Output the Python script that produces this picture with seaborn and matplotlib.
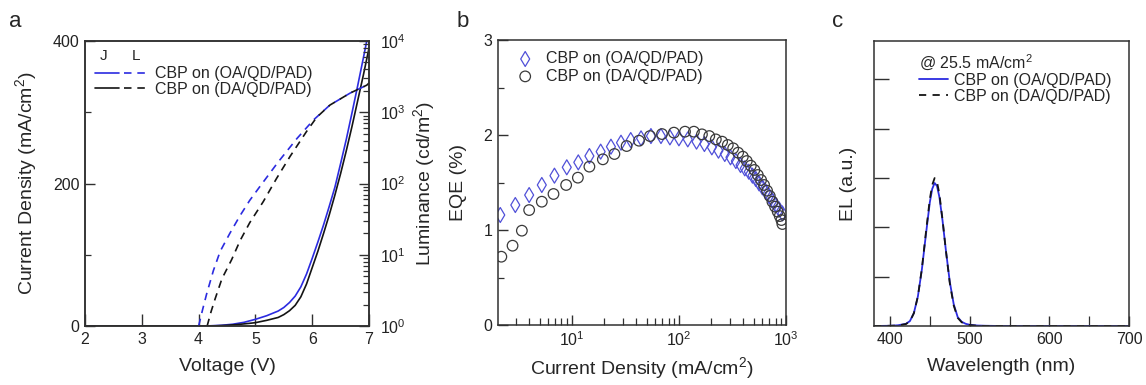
import matplotlib
matplotlib.use("Agg")
import matplotlib.pyplot as plt
import seaborn as sns
from matplotlib.legend_handler import HandlerTuple
from matplotlib.ticker import LogLocator, MultipleLocator, NullFormatter, FixedLocator

# ---- panel a : J-V and L-V ----
v_j_oa = [2.0, 3.0, 4.0, 4.2, 4.4, 4.6, 4.8, 5.0, 5.2, 5.4, 5.5, 5.6, 5.7, 5.8, 5.9, 6.0,
          6.1, 6.2, 6.3, 6.4, 6.5, 6.6, 6.7, 6.8, 6.9, 7.0]
j_oa = [0, 0, 0, 0.3, 1.0, 2.5, 5.2, 9.4, 14.5, 21, 26, 33, 42, 55, 73, 95,
        118, 142, 168, 195, 228, 262, 299, 337, 376, 416]
v_j_da = [2.0, 3.0, 4.0, 4.3, 4.5, 4.7, 4.9, 5.0, 5.2, 5.4, 5.5, 5.6, 5.7, 5.8, 5.9, 6.0,
          6.1, 6.2, 6.3, 6.4, 6.5, 6.6, 6.7, 6.8, 6.9, 7.0]
j_da = [0, 0, 0, 0.3, 1.0, 2.2, 3.8, 4.7, 8, 12, 16, 21.5, 29, 41, 59, 82,
        105, 130, 156, 184, 214, 246, 280, 316, 352, 390]

v_l_oa = [4.0, 4.07, 4.14, 4.26, 4.38, 4.55, 4.73, 4.9, 5.08, 5.4, 5.73, 6.02, 6.31, 6.67, 6.96, 7.0]
l_oa = [1, 1.7, 2.8, 6.0, 11.2, 20, 35.5, 58, 91, 200, 427, 776, 1259, 1862, 2399, 2512]
v_l_da = [4.15, 4.22, 4.29, 4.41, 4.58, 4.73, 4.9, 5.14, 5.37, 5.61, 5.9, 6.08, 6.31, 6.67, 6.96, 7.0]
l_da = [1, 1.6, 2.4, 4.6, 8.5, 15.8, 28.2, 56, 117, 240, 537, 851, 1259, 1862, 2399, 2570]

# ---- panel b : EQE vs J ----
j_eqe_oa = [2.15, 2.97, 4.0, 5.25, 6.89, 8.98, 11.5, 14.6, 18.6, 23.2, 28.8, 35.5, 44.3, 54.8,
            68, 82.4, 100, 121, 146, 173, 203, 234, 268, 303, 340, 376, 412, 449, 486, 522,
            560, 602, 647, 695, 746, 801, 861, 924]
eqe_oa = [1.158, 1.263, 1.368, 1.474, 1.572, 1.66, 1.712, 1.779, 1.825, 1.877, 1.919, 1.947,
          1.965, 1.989, 1.989, 1.975, 1.965, 1.954, 1.93, 1.905, 1.87, 1.835, 1.8, 1.765, 1.726,
          1.684, 1.649, 1.614, 1.572, 1.537, 1.491, 1.449, 1.404, 1.358, 1.309, 1.263, 1.218, 1.175]
j_eqe_da = [2.2, 2.8, 3.42, 4.0, 5.25, 6.75, 8.86, 11.4, 14.6, 19.5, 25.0, 32.5, 42.4, 53.7,
            69.5, 89.8, 114, 138, 164, 192, 221, 253, 286, 321, 357, 395, 430, 469, 507, 545,
            585, 624, 665, 705, 746, 790, 836, 873, 905, 924]
eqe_da = [0.719, 0.835, 0.993, 1.21, 1.298, 1.379, 1.474, 1.551, 1.667, 1.744, 1.8, 1.884,
          1.94, 1.989, 2.01, 2.025, 2.035, 2.035, 2.007, 1.989, 1.954, 1.93, 1.895, 1.86, 1.814,
          1.772, 1.726, 1.677, 1.632, 1.579, 1.526, 1.474, 1.414, 1.358, 1.298, 1.246, 1.193,
          1.147, 1.105, 1.063]

# ---- panel c : EL spectra ----
wl = [380, 400, 410, 420, 425, 430, 435, 440, 445, 450, 453, 456, 459, 462, 466, 470, 475,
      480, 485, 490, 495, 500, 510, 520, 540, 600, 700]
el_oa = [0, 0.001, 0.003, 0.009, 0.02, 0.053, 0.12, 0.229, 0.369, 0.502, 0.556, 0.58, 0.568,
         0.523, 0.426, 0.311, 0.18, 0.088, 0.036, 0.017, 0.009, 0.005, 0.002, 0.001, 0, 0, 0]
el_da = [0, 0.001, 0.002, 0.008, 0.019, 0.052, 0.12, 0.232, 0.377, 0.515, 0.572, 0.60, 0.585,
         0.535, 0.43, 0.31, 0.175, 0.083, 0.033, 0.015, 0.008, 0.004, 0.001, 0, 0, 0, 0]

labels = ["CBP on (OA/QD/PAD)", "CBP on (DA/QD/PAD)"]
blue = "#2b2be0"
black = "#141414"

sns.set_style("ticks")
plt.rcParams["font.family"] = ["Liberation Sans", "DejaVu Sans"]
plt.rcParams["mathtext.default"] = "regular"
plt.rcParams["axes.edgecolor"] = "#303030"
plt.rcParams["axes.linewidth"] = 1.1
plt.rcParams["xtick.color"] = "#303030"
plt.rcParams["ytick.color"] = "#303030"
plt.rcParams["xtick.labelcolor"] = "#222222"
plt.rcParams["ytick.labelcolor"] = "#222222"

fig = plt.figure(figsize=(11.46, 3.85), dpi=100)
ax_a = fig.add_axes([0.0742, 0.1532, 0.2478, 0.7403])
ax_b = fig.add_axes([0.4346, 0.1558, 0.2513, 0.7403])
ax_c = fig.add_axes([0.7627, 0.1532, 0.2225, 0.7403])

def style_ticks(ax, maj=7, mnr=4):
    ax.tick_params(which="major", direction="in", length=maj, width=1.0, labelsize=11.5, pad=4)
    ax.tick_params(which="minor", direction="in", length=mnr, width=0.9)

# --- a ---
sns.lineplot(x=v_j_oa, y=j_oa, ax=ax_a, color=blue, lw=1.2, sort=False, estimator=None)
sns.lineplot(x=v_j_da, y=j_da, ax=ax_a, color=black, lw=1.2, sort=False, estimator=None)
ax_a.set_xlim(2, 7)
ax_a.set_ylim(0, 400)
ax_a.xaxis.set_major_locator(MultipleLocator(1))
ax_a.yaxis.set_major_locator(FixedLocator([0, 200, 400]))
ax_a.yaxis.set_minor_locator(FixedLocator([100, 300]))
style_ticks(ax_a)
ax_a.tick_params(axis="x", length=9)
ax_a.set_xlabel("Voltage (V)", fontsize=14, labelpad=8)
ax_a.set_ylabel("Current Density (mA/cm$^2$)", fontsize=14, labelpad=10)

ax_r = ax_a.twinx()
sns.lineplot(x=v_l_oa, y=l_oa, ax=ax_r, color=blue, lw=1.2, ls=(0, (4.5, 3.5)), sort=False, estimator=None)
sns.lineplot(x=v_l_da, y=l_da, ax=ax_r, color=black, lw=1.2, ls=(0, (4.5, 3.5)), sort=False, estimator=None)
ax_r.set_yscale("log")
ax_r.set_ylim(1, 1e4)
ax_r.yaxis.set_major_locator(LogLocator(base=10, numticks=10))
ax_r.yaxis.set_minor_locator(LogLocator(base=10, subs=range(2, 10), numticks=10))
ax_r.yaxis.set_minor_formatter(NullFormatter())
style_ticks(ax_r)
ax_r.tick_params(axis="y", pad=8)
ax_r.set_ylabel("Luminance (cd/m$^2$)", fontsize=14, labelpad=4)

la, lb = ax_a.lines[0], ax_a.lines[1]
ra, rb = ax_r.lines[0], ax_r.lines[1]
ax_r.legend([(la, ra), (lb, rb)], labels, handler_map={tuple: HandlerTuple(ndivide=None, pad=0.3)},
            loc="upper left", bbox_to_anchor=(0.0, 0.945), frameon=False, fontsize=11.5,
            handlelength=3.4, handletextpad=0.4, labelspacing=0.05, borderaxespad=0.2)
ax_a.text(0.053, 0.947, "J", transform=ax_a.transAxes, fontsize=11, ha="left", va="center")
ax_a.text(0.163, 0.947, "L", transform=ax_a.transAxes, fontsize=11, ha="left", va="center")

# --- b ---
sns.scatterplot(x=j_eqe_oa, y=eqe_oa, ax=ax_b, marker="d", s=58, facecolor="none",
                edgecolor="#5050d8", linewidth=0.9, label=labels[0])
sns.scatterplot(x=j_eqe_da, y=eqe_da, ax=ax_b, marker="o", s=58, facecolor="none",
                edgecolor="#3a3a3a", linewidth=0.9, label=labels[1])
ax_b.set_xscale("log")
ax_b.set_xlim(2.05, 1000)
ax_b.set_ylim(0, 3)
ax_b.yaxis.set_major_locator(MultipleLocator(1))
ax_b.yaxis.set_minor_locator(MultipleLocator(0.5))
ax_b.xaxis.set_major_locator(LogLocator(base=10, numticks=10))
ax_b.xaxis.set_minor_locator(LogLocator(base=10, subs=range(2, 10), numticks=10))
ax_b.xaxis.set_minor_formatter(NullFormatter())
style_ticks(ax_b)
ax_b.tick_params(axis="x", which="minor", length=5)
ax_b.set_xlabel("Current Density (mA/cm$^2$)", fontsize=14, labelpad=4)
ax_b.set_ylabel("EQE (%)", fontsize=14, labelpad=12)
ax_b.legend(loc="upper left", frameon=False, fontsize=11.5, handletextpad=0.3,
            labelspacing=0.15, borderaxespad=0.3, markerscale=1.0)

# --- c ---
sns.lineplot(x=wl, y=el_oa, ax=ax_c, color=blue, lw=1.3, label=labels[0], sort=False, estimator=None)
sns.lineplot(x=wl, y=el_da, ax=ax_c, color=black, lw=1.3, ls=(0, (4, 3.5)), label=labels[1],
             sort=False, estimator=None)
ax_c.set_xlim(380, 700)
ax_c.set_ylim(0, 1.156)
ax_c.xaxis.set_major_locator(MultipleLocator(100))
ax_c.xaxis.set_minor_locator(MultipleLocator(50))
ax_c.yaxis.set_major_locator(FixedLocator([0.2, 0.4, 0.6, 0.8, 1.0]))
ax_c.set_yticklabels([])
style_ticks(ax_c)
ax_c.tick_params(axis="x", which="minor", length=7)
ax_c.tick_params(axis="y", length=11)
ax_c.set_xlabel("Wavelength (nm)", fontsize=14, labelpad=8)
ax_c.set_ylabel("EL (a.u.)", fontsize=14, labelpad=8)
leg = ax_c.legend(title="@ 25.5 mA/cm$^2$", loc="upper left", bbox_to_anchor=(0.14, 0.995),
                  frameon=False, fontsize=11.5, title_fontsize=11.5, handlelength=1.8,
                  handletextpad=0.4, labelspacing=0.05, borderaxespad=0.2)
leg._legend_box.align = "left"

for ax in (ax_a, ax_b, ax_c):
    for sp in ax.spines.values():
        sp.set_visible(True)

fig.text(0.008, 0.93, "a", fontsize=16)
fig.text(0.398, 0.93, "b", fontsize=16)
fig.text(0.726, 0.93, "c", fontsize=16)

fig.savefig("out.png", dpi=100)
